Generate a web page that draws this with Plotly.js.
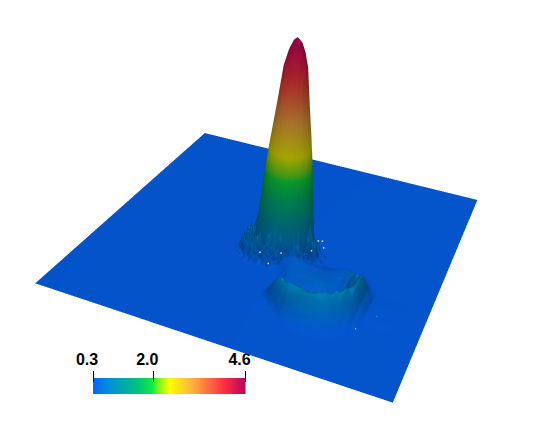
<!DOCTYPE html>
<html><head><meta charset="utf-8"><script src="https://cdn.plot.ly/plotly-3.0.1.min.js"></script>
<style>html,body{margin:0;padding:0;background:#fff;overflow:hidden;width:538px;height:434px}
/* plot is larger than the window so the 45deg gl camera gives the reference's narrower view */
#chart{position:absolute;left:-147px;top:-119px;width:832px;height:672px}</style></head>
<body><div id="chart"></div>
<script>
const xValues = [-1.0554,-.5,-.3,-.24,-.22,-.2,-.18,-.16,-.14,-.12,-.1,-.08,-.06,-.04,-.02,0,.02,.04,.06,.08,.1,.12,.14,.16,.18,.2,.22,.24,.28,.32,.36,.4,.44,.48,.52,.56,.6,.64,.9446];
const yValues = [-.966,-.72,-.68,-.64,-.6,-.56,-.52,-.48,-.44,-.4,-.36,-.32,-.28,-.24,-.22,-.2,-.18,-.16,-.14,-.12,-.1,-.08,-.06,-.04,-.02,0,.02,.04,.06,.08,.1,.12,.14,.16,.18,.2,.3,.5,1.034];
const zRows = [
[.3,.3,.3,.3,.3,.3,.3,.3,.3,.3,.3,.3,.3,.3,.3,.3,.3,.3,.3,.3,.3,.3,.3,.3,.3,.3,.3,.3,.3,.3,.3,.3,.3,.3,.3,.3,.3,.3,.3],
[.3,.3,.3,.3,.3,.3,.3,.3,.3,.3,.3,.3,.3,.3,.3,.3,.3,.3,.3,.3,.3,.3,.3,.3,.3,.3,.3,.3,.3,.3,.3,.3,.3,.3,.3,.3,.3,.3,.3],
[.3,.3,.3,.3,.3,.3,.3,.3,.3,.3,.3,.3,.3,.3,.3,.3,.3,.3,.3,.3,.3,.3,.3,.3,.3,.3,.3,.3,.32,.33,.34,.34,.33,.31,.3,.3,.3,.3,.3],
[.3,.3,.3,.3,.3,.3,.3,.3,.3,.3,.3,.3,.3,.3,.3,.3,.3,.3,.3,.3,.3,.3,.3,.3,.3,.3,.31,.34,.39,.42,.44,.44,.42,.38,.33,.3,.3,.3,.3],
[.3,.3,.3,.3,.3,.3,.3,.3,.3,.3,.3,.3,.3,.3,.3,.3,.3,.3,.3,.3,.3,.3,.3,.3,.31,.35,.4,.46,.53,.58,.6,.6,.56,.5,.42,.34,.3,.3,.3],
[.3,.3,.3,.3,.3,.3,.3,.3,.3,.3,.3,.3,.3,.3,.3,.3,.3,.3,.3,.3,.3,.3,.32,.38,.46,.55,.62,.68,.74,.78,.8,.78,.72,.63,.5,.4,.32,.3,.3],
[.3,.3,.3,.3,.3,.3,.3,.3,.3,.3,.3,.3,.3,.3,.3,.3,.3,.3,.3,.3,.32,.38,.48,.58,.68,.75,.78,.8,.78,.74,.72,.78,.82,.76,.63,.48,.36,.3,.3],
[.3,.3,.3,.3,.3,.3,.3,.3,.3,.3,.3,.3,.3,.3,.3,.3,.3,.3,.3,.31,.37,.48,.62,.72,.76,.72,.62,.55,.48,.46,.47,.52,.66,.82,.76,.56,.39,.31,.3],
[.3,.3,.3,.3,.3,.3,.3,.3,.3,.3,.3,.3,.3,.3,.3,.3,.3,.3,.3,.31,.36,.5,.6,.6,.5,.44,.43,.43,.42,.42,.42,.43,.5,.65,.82,.66,.43,.32,.3],
[.3,.3,.3,.3,.3,.3,.3,.3,.3,.3,.3,.3,.3,.3,.3,.3,.3,.3,.3,.3,.31,.33,.38,.41,.42,.42,.42,.42,.43,.44,.44,.42,.42,.52,.72,.8,.47,.32,.3],
[.3,.3,.3,.3,.3,.3,.3,.3,.3,.3,.3,.3,.3,.3,.3,.3,.3,.3,.3,.3,.31,.34,.38,.41,.42,.42,.42,.43,.45,.48,.47,.44,.42,.47,.64,.82,.48,.32,.3],
[.3,.3,.3,.3,.3,.3,.3,.3,.3,.3,.3,.3,.3,.3,.3,.3,.3,.3,.3,.3,.32,.35,.39,.41,.42,.42,.42,.43,.46,.48,.48,.44,.42,.46,.6,.82,.49,.32,.3],
[.3,.3,.3,.3,.3,.3,.3,.3,.3,.3,.3,.3,.3,.3,.3,.3,.3,.3,.3,.31,.33,.37,.4,.42,.42,.42,.43,.44,.45,.46,.45,.43,.42,.47,.64,.78,.46,.31,.3],
[.3,.3,.3,.3,.3,.3,.3,.3,.34,.31,.42,.3,.38,.34,.46,.3,.4,.33,.3,.33,.36,.4,.42,.42,.42,.42,.42,.43,.43,.43,.43,.42,.42,.5,.68,.64,.38,.3,.3],
[.3,.3,.3,.3,.3,.3,.36,.3,.3,.56,.34,.5,.3,.6,.36,.5,.33,.5,.32,.35,.38,.41,.42,.42,.42,.42,.42,.42,.42,.42,.42,.42,.45,.54,.6,.5,.33,.3,.3],
[.3,.3,.3,.3,.3,.36,.3,.62,.4,.62,.78,.36,.72,.42,.72,.38,.66,.44,.33,.36,.39,.41,.42,.42,.42,.42,.42,.42,.42,.41,.41,.42,.46,.54,.55,.42,.31,.3,.3],
[.3,.3,.3,.3,.34,.3,.68,.42,.8,.36,.72,.9,.4,.8,.5,.72,.42,.7,.34,.37,.4,.42,.42,.42,.42,.42,.41,.41,.4,.39,.4,.42,.47,.52,.5,.37,.3,.3,.3],
[.3,.3,.3,.3,.32,.66,.32,.78,.38,.7,.42,.4,.56,.79,.93,.98,.93,.79,.56,.38,.4,.42,.42,.41,.4,.4,.39,.38,.37,.37,.38,.41,.47,.5,.44,.33,.3,.3,.3],
[.3,.3,.3,.3,.38,.32,.72,.38,.76,.38,.52,.93,1.27,1.53,1.69,1.74,1.69,1.53,1.27,.93,.52,.6,.38,.66,.38,.35,.34,.34,.33,.34,.36,.42,.46,.43,.36,.31,.3,.3,.3],
[.3,.3,.3,.3,.3,.66,.34,.78,.4,.61,1.13,1.58,1.95,2.22,2.37,2.42,2.37,2.22,1.95,1.58,1.13,.61,.6,.34,.66,.36,.31,.31,.31,.31,.32,.35,.37,.36,.32,.3,.3,.3,.3],
[.3,.3,.3,.3,.36,.32,.76,.4,.52,1.13,1.69,2.17,2.52,2.77,2.94,3,2.94,2.77,2.52,2.17,1.69,1.13,.52,.33,.62,.38,.7,.44,.3,.3,.3,.31,.32,.32,.3,.3,.3,.3,.3],
[.3,.3,.3,.3,.3,.7,.36,.5,.93,1.58,2.17,2.62,3,3.29,3.48,3.55,3.48,3.29,3,2.62,2.17,1.58,.93,.35,.72,.38,.66,.36,.3,.3,.3,.3,.3,.3,.3,.3,.3,.3,.3],
[.3,.3,.3,.3,.34,.34,.74,.56,1.27,1.95,2.52,3,3.41,3.85,4.07,4.14,4.07,3.85,3.41,3,2.52,1.95,1.27,.56,.74,.4,.62,.34,.3,.3,.3,.3,.3,.3,.3,.3,.3,.3,.3],
[.3,.3,.3,.3,.3,.66,.36,.79,1.53,2.22,2.77,3.29,3.85,4.2,4.33,4.38,4.33,4.2,3.85,3.29,2.77,2.22,1.53,.79,.5,.7,.38,.42,.3,.3,.3,.3,.3,.3,.3,.3,.3,.3,.3],
[.3,.3,.3,.3,.3,.34,.68,.93,1.69,2.37,2.94,3.48,4.07,4.33,4.49,4.54,4.49,4.33,4.07,3.48,2.94,2.37,1.69,.93,.68,.36,.56,.32,.3,.3,.3,.3,.3,.3,.3,.3,.3,.3,.3],
[.3,.3,.3,.3,.3,.5,.4,.98,1.74,2.42,3,3.55,4.14,4.38,4.54,4.6,4.54,4.38,4.14,3.55,3,2.42,1.74,.98,.4,.62,.34,.3,.3,.3,.3,.3,.3,.3,.3,.3,.3,.3,.3],
[.3,.3,.3,.3,.3,.42,.36,.93,1.69,2.37,2.94,3.48,4.07,4.33,4.49,4.54,4.49,4.33,4.07,3.48,2.94,2.37,1.69,.93,.31,.5,.3,.3,.3,.3,.3,.3,.3,.3,.3,.3,.3,.3,.3],
[.3,.3,.3,.3,.3,.3,.3,.79,1.53,2.22,2.77,3.29,3.85,4.2,4.33,4.38,4.33,4.2,3.85,3.29,2.77,2.22,1.53,.79,.3,.3,.3,.3,.3,.3,.3,.3,.3,.3,.3,.3,.3,.3,.3],
[.3,.3,.3,.3,.3,.3,.3,.56,1.27,1.95,2.52,3,3.41,3.85,4.07,4.14,4.07,3.85,3.41,3,2.52,1.95,1.27,.56,.3,.3,.3,.3,.3,.3,.3,.3,.3,.3,.3,.3,.3,.3,.3],
[.3,.3,.3,.3,.3,.3,.3,.35,.93,1.58,2.17,2.62,3,3.29,3.48,3.55,3.48,3.29,3,2.62,2.17,1.58,.93,.35,.3,.3,.3,.3,.3,.3,.3,.3,.3,.3,.3,.3,.3,.3,.3],
[.3,.3,.3,.3,.3,.3,.3,.3,.52,1.13,1.69,2.17,2.52,2.77,2.94,3,2.94,2.77,2.52,2.17,1.69,1.13,.52,.3,.3,.3,.3,.3,.3,.3,.3,.3,.3,.3,.3,.3,.3,.3,.3],
[.3,.3,.3,.3,.3,.3,.3,.3,.3,.61,1.13,1.58,1.95,2.22,2.37,2.42,2.37,2.22,1.95,1.58,1.13,.61,.3,.3,.3,.3,.3,.3,.3,.3,.3,.3,.3,.3,.3,.3,.3,.3,.3],
[.3,.3,.3,.3,.3,.3,.3,.3,.3,.3,.52,.93,1.27,1.53,1.69,1.74,1.69,1.53,1.27,.93,.52,.3,.3,.3,.3,.3,.3,.3,.3,.3,.3,.3,.3,.3,.3,.3,.3,.3,.3],
[.3,.3,.3,.3,.3,.3,.3,.3,.3,.3,.3,.35,.56,.79,.93,.98,.93,.79,.56,.35,.3,.3,.3,.3,.3,.3,.3,.3,.3,.3,.3,.3,.3,.3,.3,.3,.3,.3,.3],
[.3,.3,.3,.3,.3,.3,.3,.3,.3,.3,.3,.3,.3,.3,.31,.32,.31,.3,.3,.3,.3,.3,.3,.3,.3,.3,.3,.3,.3,.3,.3,.3,.3,.3,.3,.3,.3,.3,.3],
[.3,.3,.3,.3,.3,.3,.3,.3,.3,.3,.3,.3,.3,.3,.3,.3,.3,.3,.3,.3,.3,.3,.3,.3,.3,.3,.3,.3,.3,.3,.3,.3,.3,.3,.3,.3,.3,.3,.3],
[.3,.3,.3,.3,.3,.3,.3,.3,.3,.3,.3,.3,.3,.3,.3,.3,.3,.3,.3,.3,.3,.3,.3,.3,.3,.3,.3,.3,.3,.3,.3,.3,.3,.3,.3,.3,.3,.3,.3],
[.3,.3,.3,.3,.3,.3,.3,.3,.3,.3,.3,.3,.3,.3,.3,.3,.3,.3,.3,.3,.3,.3,.3,.3,.3,.3,.3,.3,.3,.3,.3,.3,.3,.3,.3,.3,.3,.3,.3],
[.3,.3,.3,.3,.3,.3,.3,.3,.3,.3,.3,.3,.3,.3,.3,.3,.3,.3,.3,.3,.3,.3,.3,.3,.3,.3,.3,.3,.3,.3,.3,.3,.3,.3,.3,.3,.3,.3,.3]
];
// pale specks around the foot of the column and near the ring
const speckX = [.2,.19,.2,.24,.21,.06,.01,-.06,-.2,-.24,-.17,-.14,.697,.627];
const speckY = [.03,-.03,-.08,.02,.08,-.2,-.26,-.22,-.03,.04,-.17,-.15,-.413,-.553];
const speckZ = [.5,.5,.5,.4,.4,.55,.38,.48,.48,.34,.5,.52,.31,.31];
const colorStops = [0,.1,.2,.3,.39,.42,.5,.65,.85,1];
const colorValues = ['#0566f8','#0090d8','#00a8a8','#00c878','#10ee40','#70f020','#ffff00','#ffb040','#ff3040','#b8005f'];
const barValues = [.3,.5,.7,.9,1.1,1.3,1.5,1.7,1.9,2,2.1,2.3,2.5,2.7,2.9,3.1,3.3,3.5,3.7,3.9,4.1,4.3,4.6];
const tickValues = [.3,2,4.6];
const tickLabels = ['0.3','2.0','4.6'];

const colorscale = colorStops.map((s, i) => [s, colorValues[i]]);

Plotly.newPlot('chart', [
    {
        type: 'surface',
        x: xValues,
        y: yValues,
        z: zRows,
        cmin: .3,
        cmax: 4.6,
        colorscale: colorscale,
        showscale: false,
        lighting: {ambient: .42, diffuse: .43, specular: 0, roughness: 1, fresnel: 0},
        lightposition: {x: 0, y: 0, z: 100000}
    },
    {
        type: 'scatter3d',
        mode: 'markers',
        x: speckX,
        y: speckY,
        z: speckZ,
        marker: {size: 1, color: '#d8e2ee', line: {width: 0}}
    },
    {
        type: 'heatmap',
        x: barValues,
        y: [0, 1],
        z: [barValues, barValues],
        zmin: .3,
        zmax: 4.6,
        zsmooth: 'best',
        colorscale: colorscale,
        showscale: false
    }
], {
    width: 832,
    height: 672,
    margin: {l: 0, r: 0, t: 0, b: 0},
    paper_bgcolor: '#fff',
    plot_bgcolor: 'rgba(0,0,0,0)',
    showlegend: false,
    xaxis: {
        domain: [240 / 832, 392.5 / 832],
        range: [.3, 4.6],
        side: 'top',
        anchor: 'free',
        position: (672 - 501) / 672,
        showgrid: false,
        zeroline: false,
        showline: false,
        ticks: 'outside',
        ticklen: 11,
        tickwidth: 1,
        tickcolor: '#000',
        tickmode: 'array',
        tickvals: tickValues,
        ticktext: tickLabels,
        ticklabelshift: -6,
        tickfont: {family: '"Liberation Sans"', size: 16, color: '#000', weight: 'bold'}
    },
    yaxis: {
        domain: [(672 - 513) / 672, (672 - 497) / 672],
        range: [0, 1],
        visible: false
    },
    scene: {
        domain: {x: [0, 1], y: [0, 1]},
        xaxis: {visible: false, range: [-1.0554, .9446]},
        yaxis: {visible: false, range: [-.966, 1.034]},
        zaxis: {visible: false, range: [.2, 4.7]},
        aspectmode: 'manual',
        aspectratio: {x: 1, y: .9985, z: .6652},
        camera: {
            eye: {x: .7112, y: -1.8653, z: 1.0532},
            center: {x: .0559, y: -.2189, z: -.1004},
            up: {x: -.1224, y: .1703, z: 1}
        }
    }
}, {displayModeBar: false});
</script></body></html>
